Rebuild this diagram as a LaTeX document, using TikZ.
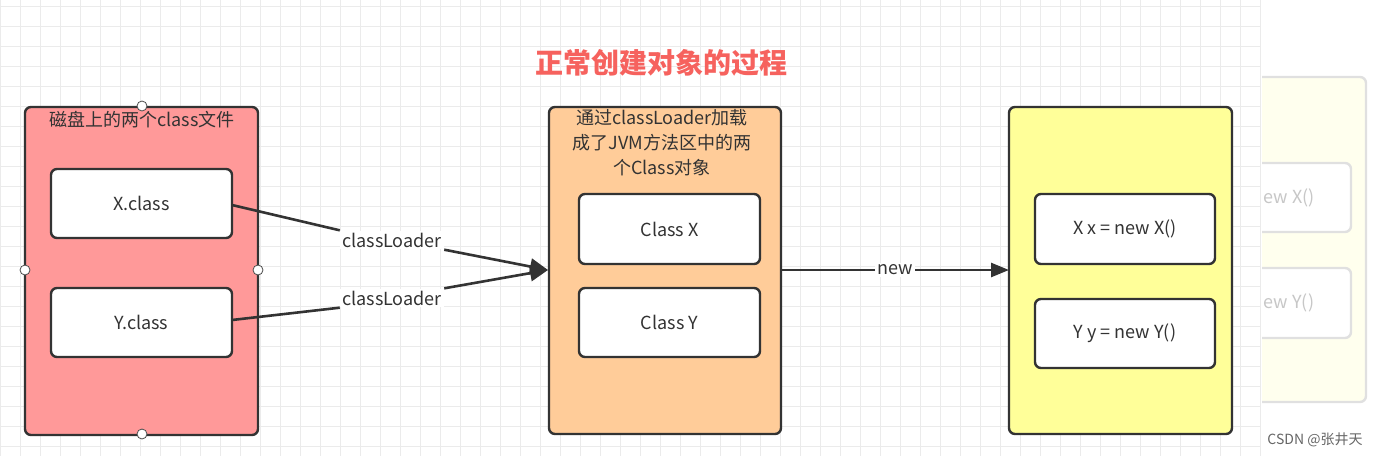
\documentclass[tikz,border=0pt]{standalone}
\usepackage{fontspec}
\setmainfont{Noto Sans CJK SC}
\usetikzlibrary{arrows.meta}
\begin{document}
\begin{tikzpicture}[x=0.5pt,y=-0.5pt,
 outer/.style={draw=black!80,line width=1.2pt,rounded corners=3pt},
 inner/.style={draw=black!80,line width=1.2pt,rounded corners=3pt,fill=white},
 txt/.style={font=\fontsize{9}{11}\selectfont,text=black!80},
 lbl/.style={font=\fontsize{9}{11}\selectfont,text=black!80,fill=white,inner sep=1pt},
 conn/.style={draw=black!80,line width=1.3pt},
 handle/.style={circle,draw=black!70,fill=white,inner sep=0pt,minimum size=5pt}]
\useasboundingbox (0,0) rectangle (1382,456);
\fill[white] (0,0) rectangle (1382,456);
\foreach \x in {0,20,...,1260} \draw[black!8,line width=0.4pt] (\x,0) -- (\x,456);
\foreach \y in {6,26,...,456} \draw[black!8,line width=0.4pt] (0,\y) -- (1260,\y);
\node[font=\fontsize{14}{16}\selectfont\bfseries,text={rgb,255:red,246;green,98;blue,94}] (title) at (661,63) {正常创建对象的过程};
% red
\draw[outer,fill={rgb,255:red,255;green,153;blue,153}] (25,107) rectangle (258,435);
\node[txt] (rl) at (142,120) {磁盘上的两个class文件};
\draw[inner] (51,169) rectangle node[txt] (xc) {X.class} (232,238);
\draw[inner] (51,288) rectangle node[txt] (yc) {Y.class} (232,357);
\foreach \p in {(142,106),(142,434),(25,270),(258,270)} \node[handle] at \p {};
% orange
\draw[outer,fill={rgb,255:red,255;green,204;blue,153}] (549,107) rectangle (781,434);
\node[txt,align=center,font=\fontsize{9}{12.5}\selectfont] (ol) at (662,143) {通过classLoader加载\\成了JVM方法区中的两\\个Class对象};
\draw[inner] (579,194) rectangle node[txt] (cx) {Class X} (760,264);
\draw[inner] (579,288) rectangle node[txt] (cy) {Class Y} (760,357);
% yellow
\draw[outer,fill={rgb,255:red,255;green,255;blue,153}] (1009,107) rectangle (1232,434);
\draw[inner] (1035,194) rectangle node[txt] (nx) {X x = new X()} (1215,264);
\draw[inner] (1035,299) rectangle node[txt] (ny) {Y y = new Y()} (1215,368);
% faded
\begin{scope}
\clip (1262,60) rectangle (1382,420);
\draw[black!12,line width=1.2pt,rounded corners=3pt,fill={rgb,255:red,255;green,255;blue,238}] (1200,77) rectangle (1366,402);
\draw[black!12,line width=1.2pt,rounded corners=3pt,fill=white] (1200,163) rectangle node[txt,text=black!22,xshift=4] (fx) {new X()} (1351,232);
\draw[black!12,line width=1.2pt,rounded corners=3pt,fill=white] (1200,268) rectangle node[txt,text=black!22,xshift=4] (fy) {new Y()} (1351,338);
\end{scope}
\node[font=\fontsize{7}{8}\selectfont,text=black!60] (csdn) at (1315,440) {CSDN @张井天};
% connectors
\coordinate (tip) at (548,270);
\node[lbl] (l1) at (392,240) {classLoader};
\node[lbl] (l2) at (392,298) {classLoader};
\draw[conn] (232,205) -- (l1.north west);
\draw[conn,-{Triangle[length=9pt,width=8pt]}] (l1.south east) -- (tip);
\draw[conn] (232,320) -- (l2.south west);
\draw[conn,-{Triangle[length=9pt,width=8pt]}] (l2.north east) -- (tip);
\draw[conn,-{Triangle[length=9pt,width=7pt]}] (781,270) -- node[lbl] (nl) {new} (1009,270);
\end{tikzpicture}
\end{document}
